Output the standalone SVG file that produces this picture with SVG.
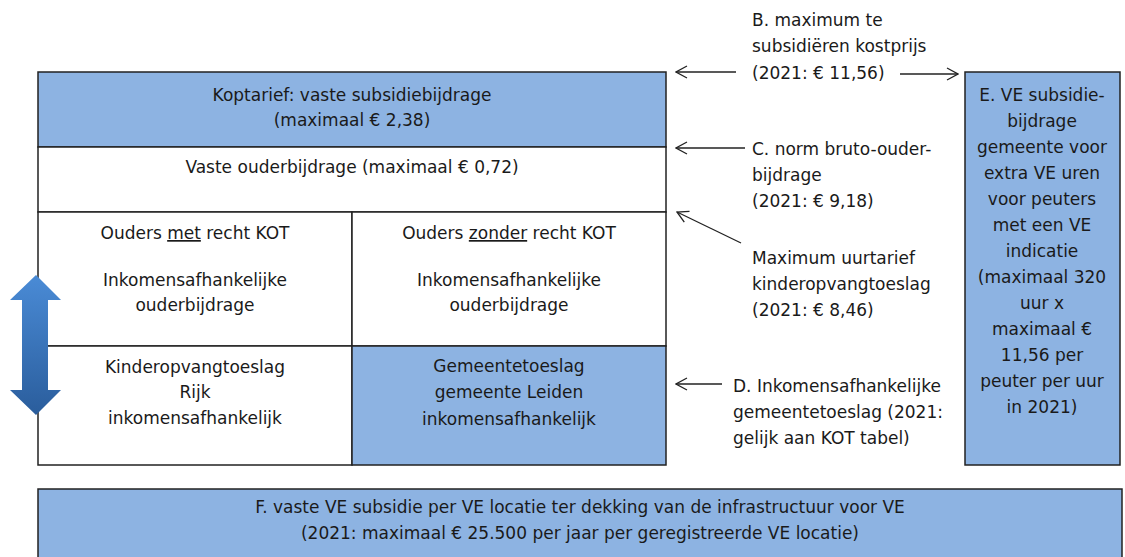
<svg xmlns="http://www.w3.org/2000/svg" width="1125" height="557" viewBox="0 0 1125 557">
<defs>
<style>
text{font-family:"DejaVu Sans","Liberation Sans",sans-serif;font-size:17px;fill:#1a1a1a}
.c{text-anchor:middle}
.box{stroke:#222;stroke-width:1.5}
.blue{fill:#8db3e2}
.white{fill:#fff}
.con{stroke:#222;stroke-width:1.3;fill:none;marker-end:url(#ah)}
</style>
<marker id="ah" viewBox="0 0 14 14" refX="13" refY="7" markerWidth="14" markerHeight="14" markerUnits="userSpaceOnUse" orient="auto">
<path d="M2,1 L13,7 L2,13" fill="none" stroke="#222" stroke-width="1.3"/>
</marker>
<linearGradient id="ag" x1="0" y1="0" x2="0" y2="1">
<stop offset="0" stop-color="#4a8bd6"/>
<stop offset="1" stop-color="#2a5d9c"/>
</linearGradient>
</defs>
<rect width="1125" height="557" fill="#fff"/>
<g id="koptarief">
<rect class="box blue" x="38" y="72" width="628" height="75"/>
<text class="c" x="352" y="101">Koptarief: vaste subsidiebijdrage</text>
<text class="c" x="352" y="126">(maximaal € 2,38)</text>
</g>
<g id="vaste-ouderbijdrage">
<rect class="box white" x="38" y="147" width="628" height="65"/>
<text class="c" x="352" y="173">Vaste ouderbijdrage (maximaal € 0,72)</text>
</g>
<g id="ouders-met">
<rect class="box white" x="38" y="212" width="314" height="134"/>
<text class="c" x="195" y="239">Ouders <tspan text-decoration="underline">met</tspan> recht KOT</text>
<text class="c" x="195" y="286">Inkomensafhankelijke</text>
<text class="c" x="195" y="311">ouderbijdrage</text>
</g>
<g id="ouders-zonder">
<rect class="box white" x="352" y="212" width="314" height="134"/>
<text class="c" x="509" y="239">Ouders <tspan text-decoration="underline">zonder</tspan> recht KOT</text>
<text class="c" x="509" y="286">Inkomensafhankelijke</text>
<text class="c" x="509" y="311">ouderbijdrage</text>
</g>
<g id="kinderopvangtoeslag">
<rect class="box white" x="38" y="346" width="314" height="119"/>
<text class="c" x="195" y="373">Kinderopvangtoeslag</text>
<text class="c" x="195" y="398">Rijk</text>
<text class="c" x="195" y="424">inkomensafhankelijk</text>
</g>
<g id="gemeentetoeslag">
<rect class="box blue" x="352" y="346" width="314" height="119"/>
<text class="c" x="509" y="372">Gemeentetoeslag</text>
<text class="c" x="509" y="398">gemeente Leiden</text>
<text class="c" x="509" y="425">inkomensafhankelijk</text>
</g>
<g id="double-arrow">
<path d="M36,275 L61,300 L48,300 L48,390 L61,390 L36,415 L10,390 L22,390 L22,300 L10,300 Z" fill="url(#ag)"/>
</g>
<g id="label-b">
<text x="752" y="26">B. maximum te</text>
<text x="752" y="52">subsidiëren kostprijs</text>
<text x="752" y="79">(2021: € 11,56)</text>
</g>
<g id="label-c">
<text x="752" y="155">C. norm bruto-ouder-</text>
<text x="752" y="181">bijdrage</text>
<text x="752" y="207">(2021: € 9,18)</text>
</g>
<g id="label-max">
<text x="752" y="264">Maximum uurtarief</text>
<text x="752" y="290">kinderopvangtoeslag</text>
<text x="752" y="316">(2021: € 8,46)</text>
</g>
<g id="label-d">
<text x="733" y="392">D. Inkomensafhankelijke</text>
<text x="733" y="418">gemeentetoeslag (2021:</text>
<text x="733" y="444">gelijk aan KOT tabel)</text>
</g>
<g id="ve-subsidiebijdrage">
<rect class="box blue" x="965" y="72" width="155" height="393"/>
<text class="c" x="1042" y="101">E. VE subsidie-</text>
<text class="c" x="1042" y="127">bijdrage</text>
<text class="c" x="1042" y="153">gemeente voor</text>
<text class="c" x="1042" y="179">extra VE uren</text>
<text class="c" x="1042" y="205">voor peuters</text>
<text class="c" x="1042" y="231">met een VE</text>
<text class="c" x="1042" y="257">indicatie</text>
<text class="c" x="1042" y="283">(maximaal 320</text>
<text class="c" x="1042" y="309">uur x</text>
<text class="c" x="1042" y="335">maximaal €</text>
<text class="c" x="1042" y="361">11,56 per</text>
<text class="c" x="1042" y="387">peuter per uur</text>
<text class="c" x="1042" y="413">in 2021)</text>
</g>
<g id="ve-locatie">
<rect class="box blue" x="38" y="489" width="1084" height="80"/>
<text class="c" x="580" y="513">F. vaste VE subsidie per VE locatie ter dekking van de infrastructuur voor VE</text>
<text class="c" x="580" y="539">(2021: maximaal € 25.500 per jaar per geregistreerde VE locatie)</text>
</g>
<g id="connectors">
<line class="con" x1="736" y1="72" x2="676" y2="72"/>
<line class="con" x1="900" y1="74" x2="958" y2="74"/>
<line class="con" x1="745" y1="148" x2="676" y2="148"/>
<line class="con" x1="741" y1="243" x2="677" y2="212"/>
<line class="con" x1="722" y1="384" x2="676" y2="384"/>
</g>
</svg>
